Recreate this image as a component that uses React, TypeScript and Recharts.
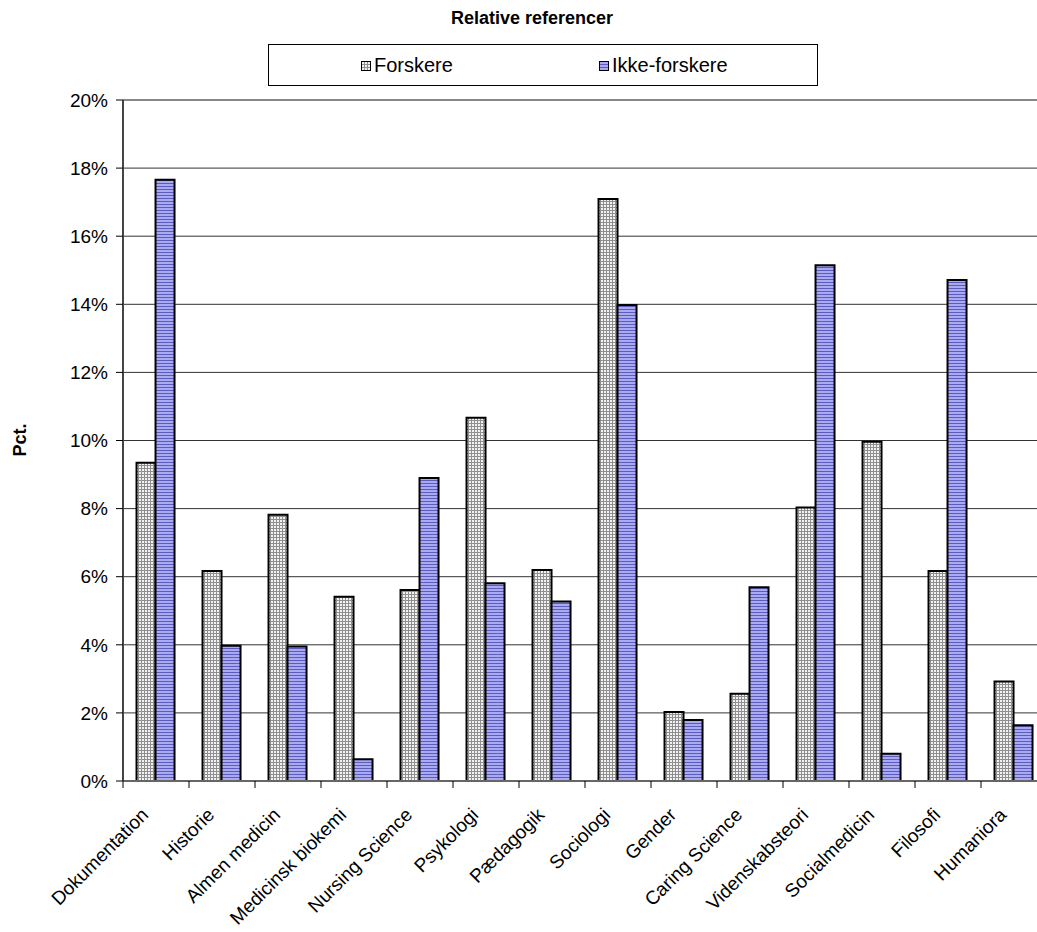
import { BarChart, Bar, XAxis, YAxis, CartesianGrid, ReferenceLine } from 'recharts';

const categories = [
  'Dokumentation', 'Historie', 'Almen medicin', 'Medicinsk biokemi', 'Nursing Science',
  'Psykologi', 'Pædagogik', 'Sociologi', 'Gender', 'Caring Science',
  'Videnskabsteori', 'Socialmedicin', 'Filosofi', 'Humaniora',
];
const forskere = [9.35, 6.17, 7.82, 5.41, 5.61, 10.67, 6.2, 17.09, 2.03, 2.56, 8.03, 9.96, 6.17, 2.92];
const ikkeForskere = [17.66, 3.97, 3.95, 0.64, 8.9, 5.81, 5.27, 13.98, 1.79, 5.69, 15.15, 0.8, 14.71, 1.64];
const yTicks = [0, 2, 4, 6, 8, 10, 12, 14, 16, 18, 20];

const data = categories.map((name, i) => ({ name, forskere: forskere[i], ikke: ikkeForskere[i] }));

const FONT = '"Liberation Sans", Arial, sans-serif';
const CHART_W = 1060;
const CHART_H = 932;
const LEFT = 123;
const RIGHT = 13;
const band = (CHART_W - LEFT - RIGHT) / categories.length;

function Patterns() {
  return (
    <svg width={0} height={0} style={{ position: 'absolute' }}>
      <defs>
        <pattern id="gridGray" width="3" height="3" patternUnits="userSpaceOnUse">
          <rect width="3" height="3" fill="#f2f2f2" />
          <rect width="3" height="1" fill="#8f8f8f" />
          <rect width="1" height="3" fill="#8f8f8f" />
        </pattern>
        <pattern id="stripeBlue" width="4" height="3" patternUnits="userSpaceOnUse">
          <rect width="4" height="3" fill="#aaaaf2" />
          <rect width="4" height="1" fill="#5c5cbe" />
        </pattern>
      </defs>
    </svg>
  );
}

function XTick(props: any) {
  const { x, y, payload } = props;
  return (
    <g>
      <line x1={x - band / 2} x2={x - band / 2} y1={y} y2={y + 7} stroke="#000" strokeWidth={1} />
      <text
        x={x - 6.5}
        y={y + 35}
        textAnchor="end"
        transform={`rotate(-45, ${x - 6.5}, ${y + 35})`}
        fontSize={19}
        fontFamily={FONT}
        fill="#000"
      >
        {payload.value}
      </text>
    </g>
  );
}

function LegendSwatch({ fill }: { fill: string }) {
  return (
    <svg width={10} height={10} style={{ display: 'block' }}>
      <rect x={0.5} y={0.5} width={9} height={9} fill={fill} stroke="#000" strokeWidth={1} />
    </svg>
  );
}

export default function App() {
  return (
    <div style={{ position: 'absolute', left: 0, top: 0, width: 1037, height: 932, overflow: 'hidden', background: '#fff', fontFamily: FONT }}>
      <Patterns />
      <div style={{ position: 'absolute', left: 0, width: 1064, top: 8, textAlign: 'center', fontWeight: 'bold', fontSize: 18 }}>
        Relative referencer
      </div>
      <div style={{ position: 'absolute', left: 268, top: 44, width: 548, height: 40, border: '1px solid #000', fontSize: 20 }}>
        <div style={{ position: 'absolute', left: 92, top: 9, display: 'flex', alignItems: 'center', gap: 3 }}>
          <LegendSwatch fill="url(#gridGray)" />
          <span>Forskere</span>
        </div>
        <div style={{ position: 'absolute', left: 330, top: 9, display: 'flex', alignItems: 'center', gap: 3 }}>
          <LegendSwatch fill="url(#stripeBlue)" />
          <span>Ikke-forskere</span>
        </div>
      </div>
      <div style={{ position: 'absolute', left: 20, top: 440, transform: 'translate(-50%, -50%) rotate(-90deg)', fontWeight: 'bold', fontSize: 18, whiteSpace: 'nowrap' }}>
        Pct.
      </div>
      <div style={{ position: 'absolute', left: 0, top: 0 }}>
        <BarChart
          width={CHART_W}
          height={CHART_H}
          data={data}
          margin={{ top: 100, right: RIGHT, bottom: 0, left: 0 }}
          barCategoryGap="20.5%"
          barGap={0}
        >
          <CartesianGrid vertical={false} stroke="#333" strokeWidth={1} />
          <XAxis
            dataKey="name"
            interval={0}
            height={151}
            tickSize={0}
            tickMargin={0}
            tickLine={false}
            tick={<XTick />}
            axisLine={{ stroke: '#666', strokeWidth: 2 }}
          />
          <YAxis
            width={LEFT}
            domain={[0, 20]}
            ticks={yTicks}
            interval={0}
            tickFormatter={(v: number) => `${v}%`}
            tickSize={7}
            tickMargin={8}
            tickLine={{ stroke: '#000' }}
            axisLine={{ stroke: '#444', strokeWidth: 2 }}
            tick={{ fill: '#000', fontSize: 19, fontFamily: FONT }}
          />
          <ReferenceLine y={20} stroke="#888" strokeWidth={2} />
          <Bar dataKey="forskere" fill="url(#gridGray)" stroke="#000" strokeWidth={2} isAnimationActive={false} />
          <Bar dataKey="ikke" fill="url(#stripeBlue)" stroke="#000" strokeWidth={2} isAnimationActive={false} />
        </BarChart>
      </div>
    </div>
  );
}
